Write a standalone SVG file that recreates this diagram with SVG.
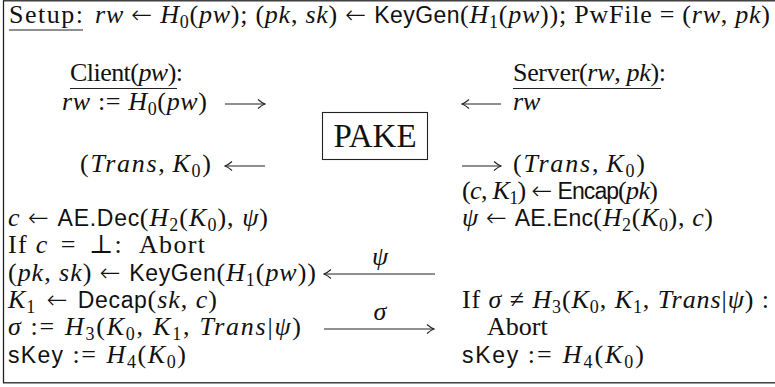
<svg xmlns="http://www.w3.org/2000/svg" width="775" height="387" viewBox="0 0 775 387">
<defs>
<style>
text{font-family:"Liberation Serif","DejaVu Serif",serif;font-size:26px;fill:#111}
.i{font-style:italic}
.sf{font-family:"Liberation Sans","DejaVu Sans",sans-serif;font-size:23px;font-style:normal;letter-spacing:-0.3px}
.sb{font-size:18px;font-style:normal}
.ar{font-family:"DejaVu Sans",sans-serif;font-size:25px;font-style:normal;font-weight:200}
.ln{stroke:#222;stroke-width:1.1;fill:none}
</style>
<marker id="ah" viewBox="-8 -5 9 10" refX="0" refY="0" markerWidth="9" markerHeight="10" markerUnits="userSpaceOnUse" orient="auto-start-reverse">
<path d="M-7,-4.5 Q-3,-1 0,0 Q-3,1 -7,4.5" fill="none" stroke="#222" stroke-width="1.1"/>
</marker>
</defs>
<rect x="3.5" y="0.8" width="790" height="382" fill="#fff" stroke="#222" stroke-width="1.3"/>

<g id="setup">
<text x="9" y="23" textLength="74" lengthAdjust="spacing">Setup:</text>
<line class="ln" x1="9" y1="30" x2="83" y2="30"/>
<text x="95" y="23" textLength="675" lengthAdjust="spacing"><tspan class="i">rw</tspan> <tspan class="ar">←</tspan> <tspan class="i">H</tspan><tspan class="sb" dy="5">0</tspan><tspan dy="-5">(</tspan><tspan class="i">pw</tspan>); (<tspan class="i">pk</tspan>, <tspan class="i">sk</tspan>) <tspan class="ar">←</tspan> <tspan class="sf">KeyGen</tspan>(<tspan class="i">H</tspan><tspan class="sb" dy="5">1</tspan><tspan dy="-5">(</tspan><tspan class="i">pw</tspan>)); PwFile = (<tspan class="i">rw</tspan>, <tspan class="i">pk</tspan>)</text>
</g>

<g id="client">
<text x="70" y="81" textLength="113" lengthAdjust="spacing">Client(<tspan class="i">pw</tspan>):</text>
<line class="ln" x1="70" y1="88.5" x2="177" y2="88.5"/>
<text x="62" y="110" textLength="145" lengthAdjust="spacing"><tspan class="i">rw</tspan> := <tspan class="i">H</tspan><tspan class="sb" dy="5">0</tspan><tspan dy="-5">(</tspan><tspan class="i">pw</tspan>)</text>
<text x="80" y="172" textLength="131" lengthAdjust="spacing">(<tspan class="i">Trans</tspan>,<tspan class="i" dx="6">K</tspan><tspan class="sb" dy="5">0</tspan><tspan dy="-5">)</tspan></text>
</g>

<g id="pake">
<rect x="322.5" y="112.5" width="105" height="47" fill="none" stroke="#222" stroke-width="1.1"/>
<text x="375" y="146.5" text-anchor="middle" style="font-size:33px">PAKE</text>
</g>

<g id="server">
<text x="513" y="81" textLength="153" lengthAdjust="spacing">Server(<tspan class="i">rw</tspan>, <tspan class="i">pk</tspan>):</text>
<line class="ln" x1="513" y1="88.5" x2="661" y2="88.5"/>
<text x="513" y="110" class="i">rw</text>
<text x="513" y="172" textLength="132" lengthAdjust="spacing">(<tspan class="i">Trans</tspan>,<tspan class="i" dx="6">K</tspan><tspan class="sb" dy="5">0</tspan><tspan dy="-5">)</tspan></text>
<text x="462" y="199" textLength="196" lengthAdjust="spacing">(<tspan class="i">c</tspan>, <tspan class="i">K</tspan><tspan class="sb" dy="5">1</tspan><tspan dy="-5">)</tspan> <tspan class="ar">←</tspan> <tspan class="sf">Encap</tspan>(<tspan class="i">pk</tspan>)</text>
<text x="462" y="226" textLength="251" lengthAdjust="spacing"><tspan class="i">ψ</tspan> <tspan class="ar">←</tspan> <tspan class="sf">AE.Enc</tspan>(<tspan class="i">H</tspan><tspan class="sb" dy="5">2</tspan><tspan dy="-5">(</tspan><tspan class="i">K</tspan><tspan class="sb" dy="5">0</tspan><tspan dy="-5">), </tspan><tspan class="i">c</tspan>)</text>
<text x="462" y="308" textLength="307" lengthAdjust="spacing">If <tspan class="i">σ</tspan> ≠ <tspan class="i">H</tspan><tspan class="sb" dy="5">3</tspan><tspan dy="-5">(</tspan><tspan class="i">K</tspan><tspan class="sb" dy="5">0</tspan><tspan dy="-5">, </tspan><tspan class="i">K</tspan><tspan class="sb" dy="5">1</tspan><tspan dy="-5">, </tspan><tspan class="i">Trans</tspan>|<tspan class="i">ψ</tspan>) :</text>
<text x="487" y="335">Abort</text>
<text x="462" y="363" textLength="182" lengthAdjust="spacing"><tspan class="sf">sKey</tspan><tspan dx="8">:=</tspan><tspan class="i" dx="9">H</tspan><tspan class="sb" dy="5">4</tspan><tspan dy="-5">(</tspan><tspan class="i">K</tspan><tspan class="sb" dy="5">0</tspan><tspan dy="-5">)</tspan></text>
</g>

<g id="client-steps">
<text x="8" y="226" textLength="260" lengthAdjust="spacing"><tspan class="i">c</tspan> <tspan class="ar">←</tspan> <tspan class="sf">AE.Dec</tspan>(<tspan class="i">H</tspan><tspan class="sb" dy="5">2</tspan><tspan dy="-5">(</tspan><tspan class="i">K</tspan><tspan class="sb" dy="5">0</tspan><tspan dy="-5">), </tspan><tspan class="i">ψ</tspan>)</text>
<text x="8" y="253" textLength="197" lengthAdjust="spacing">If <tspan class="i">c</tspan><tspan dx="12">=</tspan><tspan dx="12">⊥</tspan>:<tspan dx="16">Abort</tspan></text>
<text x="8" y="281" textLength="308" lengthAdjust="spacing">(<tspan class="i">pk</tspan>, <tspan class="i">sk</tspan>) <tspan class="ar">←</tspan> <tspan class="sf">KeyGen</tspan>(<tspan class="i">H</tspan><tspan class="sb" dy="5">1</tspan><tspan dy="-5">(</tspan><tspan class="i">pw</tspan>))</text>
<text x="8" y="308" textLength="209" lengthAdjust="spacing"><tspan class="i">K</tspan><tspan class="sb" dy="5">1</tspan><tspan dy="-5" dx="3"> </tspan><tspan class="ar">←</tspan><tspan class="sf" dx="9">Decap</tspan>(<tspan class="i">sk</tspan>, <tspan class="i">c</tspan>)</text>
<text x="8" y="335" textLength="293" lengthAdjust="spacing"><tspan class="i">σ</tspan><tspan dx="8">:=</tspan><tspan class="i" dx="9">H</tspan><tspan class="sb" dy="5">3</tspan><tspan dy="-5">(</tspan><tspan class="i">K</tspan><tspan class="sb" dy="5">0</tspan><tspan dy="-5">, </tspan><tspan class="i">K</tspan><tspan class="sb" dy="5">1</tspan><tspan dy="-5">, </tspan><tspan class="i">Trans</tspan>|<tspan class="i">ψ</tspan>)</text>
<text x="8" y="363" textLength="178" lengthAdjust="spacing"><tspan class="sf">sKey</tspan><tspan dx="8">:=</tspan><tspan class="i" dx="9">H</tspan><tspan class="sb" dy="5">4</tspan><tspan dy="-5">(</tspan><tspan class="i">K</tspan><tspan class="sb" dy="5">0</tspan><tspan dy="-5">)</tspan></text>
</g>

<g id="connectors">
<line class="ln" x1="225" y1="104" x2="265" y2="104" marker-end="url(#ah)"/>
<line class="ln" x1="225" y1="166" x2="265" y2="166" marker-start="url(#ah)"/>
<line class="ln" x1="462" y1="104" x2="501" y2="104" marker-start="url(#ah)"/>
<line class="ln" x1="462" y1="166" x2="501" y2="166" marker-end="url(#ah)"/>
<line class="ln" x1="324" y1="274" x2="435" y2="274" marker-start="url(#ah)"/>
<text x="380" y="265" text-anchor="middle" class="i">ψ</text>
<line class="ln" x1="324" y1="329" x2="434" y2="329" marker-end="url(#ah)"/>
<text x="380" y="320" text-anchor="middle" class="i">σ</text>
</g>
</svg>
